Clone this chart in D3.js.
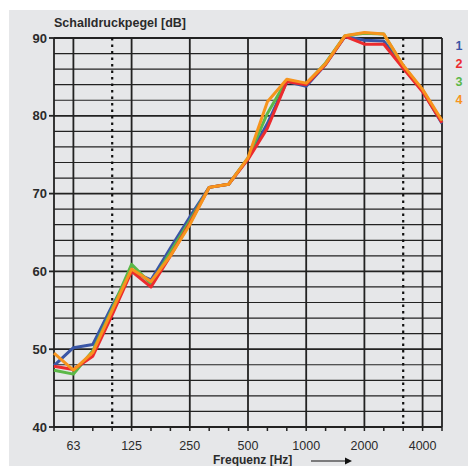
<!DOCTYPE html>
<html>
<head>
<meta charset="utf-8">
<script src="https://cdn.jsdelivr.net/npm/d3@7"></script>
<style>
  body { margin: 0; background: #fff; }
  text { font-family: "Liberation Sans", Arial, sans-serif; fill: #2b2b2b; }
</style>
</head>
<body>
<div id="root"></div>
<script>
// third-octave bands, 50 Hz .. 5000 Hz
var bands = [50, 63, 80, 100, 125, 160, 200, 250, 315, 400, 500, 630, 800, 1000, 1250, 1600, 2000, 2500, 3150, 4000, 5000];
var tickLabels = ["63", "125", "250", "500", "1000", "2000", "4000"];
var dottedBands = [100, 3150];
var yTicks = [40, 50, 60, 70, 80, 90];

var series1 = [47.9, 50.2, 50.6, 55.6, 60.0, 58.9, 63.0, 67.0, 70.8, 71.2, 74.5, 79.0, 84.4, 83.8, 86.6, 90.2, 89.7, 89.6, 86.3, 83.2, 79.0];
var series2 = [47.8, 47.4, 49.1, 54.4, 60.0, 58.0, 62.0, 66.2, 70.8, 71.2, 74.4, 78.4, 84.4, 84.0, 86.6, 90.2, 89.2, 89.2, 86.1, 83.1, 79.1];
var series3 = [47.3, 46.8, 49.8, 55.2, 60.9, 58.4, 62.5, 66.5, 70.8, 71.2, 74.6, 80.3, 84.6, 84.1, 86.8, 90.3, 90.6, 90.5, 86.4, 83.3, 79.2];
var series4 = [49.5, 47.3, 49.6, 55.0, 60.3, 58.7, 62.0, 66.0, 70.8, 71.2, 74.6, 81.8, 84.7, 84.2, 86.7, 90.3, 90.7, 90.5, 86.5, 83.4, 79.4];

var names = ["1", "2", "3", "4"];
var colors = ["#3a56a6", "#ec2b2e", "#5bb848", "#f7941d"];

var w = 468, h = 466;
var mLeft = 54, mRight = 442, mTop = 38, mBottom = 427;

var svg = d3.select("#root").append("svg").attr("width", w).attr("height", h);
svg.append("rect").attr("x", 9).attr("y", 10).attr("width", w - 9).attr("height", h - 10).attr("fill", "#e6e7e9");

// x: band index (log-spaced thirds)
var x = d3.scaleLinear().domain([0, bands.length - 1]).range([mLeft, mRight]);
var y = d3.scaleLinear().domain([40, 90]).range([mBottom, mTop]);
var bx = function(f) { return x(bands.indexOf(f)); };

var g = svg.append("g");

// horizontal grid every 2 dB
d3.range(40, 91, 2).forEach(function(v) {
  g.append("line").attr("x1", mLeft).attr("x2", mRight).attr("y1", y(v)).attr("y2", y(v))
    .attr("stroke", "#222").attr("stroke-width", v % 10 == 0 ? 1.8 : 1.2);
});

// vertical grid
var solid = [50, 63, 125, 250, 500, 1000, 2000, 4000, 5000];
solid.forEach(function(f) {
  g.append("line").attr("x1", bx(f)).attr("x2", bx(f)).attr("y1", mTop).attr("y2", mBottom)
    .attr("stroke", "#222").attr("stroke-width", 1.8);
});
dottedBands.forEach(function(f) {
  g.append("line").attr("x1", bx(f)).attr("x2", bx(f)).attr("y1", mTop).attr("y2", mBottom)
    .attr("stroke", "#111").attr("stroke-width", 2.2).attr("stroke-dasharray", "2.5,4");
});

// small ticks under x axis
bands.forEach(function(f) {
  g.append("line").attr("x1", bx(f)).attr("x2", bx(f)).attr("y1", mBottom).attr("y2", mBottom + 4)
    .attr("stroke", "#222").attr("stroke-width", 1.5);
});
// y ticks
yTicks.forEach(function(v) {
  g.append("line").attr("x1", mLeft - 5).attr("x2", mLeft).attr("y1", y(v)).attr("y2", y(v))
    .attr("stroke", "#222").attr("stroke-width", 1.8);
  g.append("text").attr("x", 47).attr("y", y(v) + 4.5).attr("text-anchor", "end")
    .style("font-size", "13px").style("font-weight", "bold").text(v);
});

tickLabels.forEach(function(t) {
  g.append("text").attr("x", bx(+t)).attr("y", 450).attr("text-anchor", "middle")
    .style("font-size", "12.5px").text(t);
});

// lines
var line = d3.line().x(function(d, i) { return x(i); }).y(function(d) { return y(d); });
var order = [0, 2, 1, 3];
var all = [series1, series2, series3, series4];
order.forEach(function(k) {
  svg.append("path").datum(all[k]).attr("d", line).attr("fill", "none")
    .attr("stroke", colors[k]).attr("stroke-width", 3).attr("stroke-linejoin", "round");
});

// legend
var legY = [50, 68, 86, 104];
names.forEach(function(n, i) {
  svg.append("text").attr("x", 459).attr("y", legY[i]).attr("text-anchor", "middle")
    .style("font-size", "12.5px").style("font-weight", "bold").style("fill", colors[i]).text(n);
});

// titles
svg.append("text").attr("x", 54).attr("y", 27).style("font-size", "12.5px").style("font-weight", "bold")
  .text("Schalldruckpegel [dB]");
svg.append("text").attr("x", 213).attr("y", 464).style("font-size", "12px").style("font-weight", "bold")
  .text("Frequenz [Hz]");
svg.append("line").attr("x1", 311).attr("x2", 345).attr("y1", 461).attr("y2", 461)
  .attr("stroke", "#111").attr("stroke-width", 1.2);
svg.append("path").attr("d", "M345,457.5 L352,461 L345,464.5 Z").attr("fill", "#111");
</script>
</body>
</html>
